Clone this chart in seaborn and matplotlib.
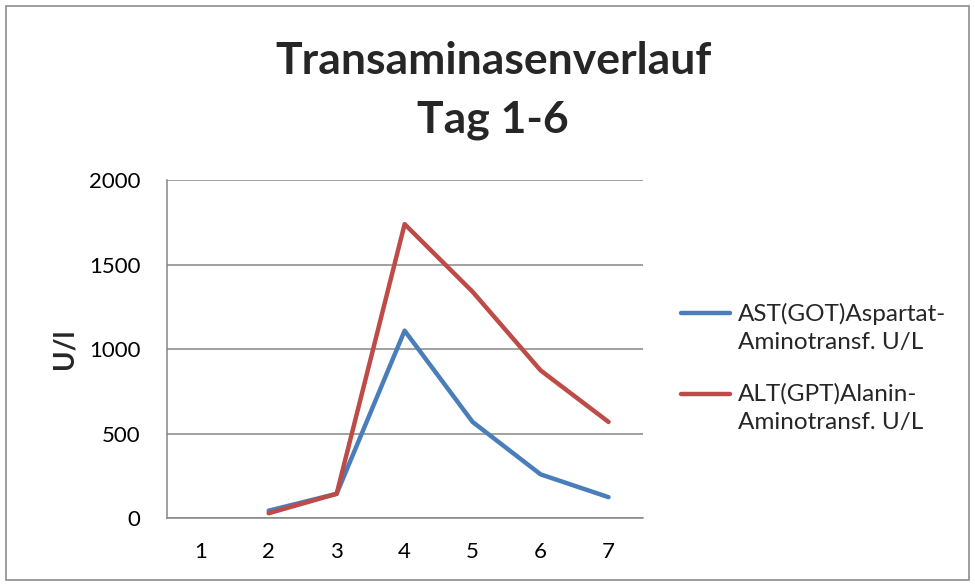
import numpy as np
import pandas as pd
import matplotlib
matplotlib.use("Agg")
import matplotlib.pyplot as plt
import seaborn as sns
from matplotlib.patches import Rectangle
from matplotlib.legend_handler import HandlerLine2D

# data (day 1 has no values)
tage = [1, 2, 3, 4, 5, 6, 7]
ast_werte = [np.nan, 45, 145, 1110, 570, 260, 125]
alt_werte = [np.nan, 30, 145, 1740, 1340, 875, 570]
serien = ["AST(GOT)Aspartat-\nAminotransf. U/L", "ALT(GPT)Alanin-\nAminotransf. U/L"]
y_ticks = [0, 500, 1000, 1500, 2000]

df = pd.DataFrame({
    "Tag": tage * 2,
    "Wert": ast_werte + alt_werte,
    "Serie": [serien[0]] * len(tage) + [serien[1]] * len(tage),
})


class HandlerFirstLine(HandlerLine2D):
    """legend line next to the first text line, like in Excel"""

    def __init__(self, shift, **kw):
        super().__init__(**kw)
        self.shift = shift

    def create_artists(self, legend, orig_handle, xdescent, ydescent,
                       width, height, fontsize, trans):
        arts = super().create_artists(legend, orig_handle, xdescent, ydescent,
                                      width, height, fontsize, trans)
        for a in arts:
            a.set_ydata(np.asarray(a.get_ydata()) + self.shift)
        return arts


sns.set_style("white")
plt.rcParams["font.family"] = ["Lato", "DejaVu Sans"]

fig = plt.figure(figsize=(9.75, 5.85), dpi=100)
ax = fig.add_axes([0.171, 0.114, 0.488, 0.578])

sns.lineplot(data=df, x="Tag", y="Wert", hue="Serie", hue_order=serien,
             palette=["#4A7EBB", "#BE4B48"], linewidth=3.2, ax=ax,
             solid_capstyle="round", solid_joinstyle="round")

ax.set_xlim(0.5, 7.5)
ax.set_ylim(0, 2000)
ax.set_xticks(tage)
ax.set_yticks(y_ticks)
ax.tick_params(axis="both", length=0, labelsize=16, colors="#000000")
ax.tick_params(axis="y", pad=19)
ax.tick_params(axis="x", pad=17)
ax.yaxis.grid(True, color="#868686", linewidth=1.1)
ax.set_axisbelow(True)
for s in ["top", "right"]:
    ax.spines[s].set_visible(False)
for s in ["left", "bottom"]:
    ax.spines[s].set_color("#868686")
    ax.spines[s].set_linewidth(1.1)

ax.set_xlabel("")
ax.set_ylabel("U/l", fontsize=20, fontweight="bold", labelpad=8)

fig.text(0.506, 0.774, "Transaminasenverlauf\nTag 1-6", ha="center", va="baseline",
         fontsize=32, fontweight="bold", linespacing=1.55)

handles = ax.get_legend_handles_labels()[0]
leg = ax.legend(handles=handles, labels=serien, loc="center left",
                bbox_to_anchor=(1.035, 0.445), frameon=False, fontsize=17.5,
                handlelength=2.0, handletextpad=0.34, labelspacing=1.25,
                handler_map={h: HandlerFirstLine(10.5) for h in handles})
for t in leg.get_texts():
    t.set_linespacing(1.42)

fig.patches.append(Rectangle((0.006, 0.008), 0.988, 0.982, transform=fig.transFigure,
                             fill=False, edgecolor="#8c8c8c", linewidth=1.2))

fig.savefig("out.png", dpi=100)
